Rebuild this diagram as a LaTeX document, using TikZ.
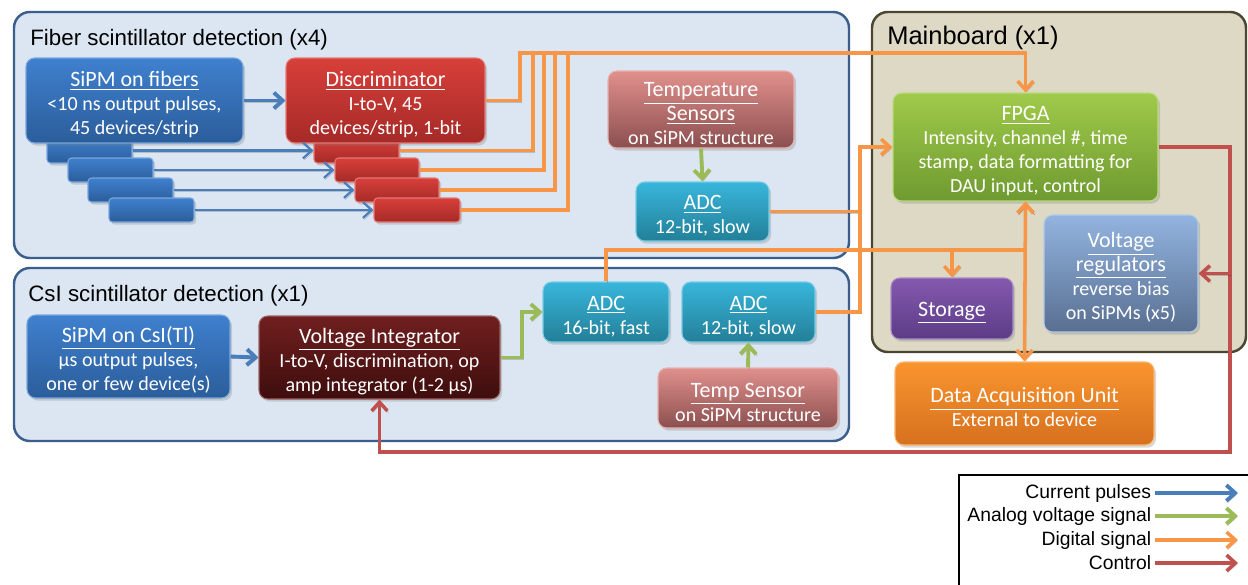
\documentclass[tikz,border=0pt]{standalone}
\usepackage{fontspec}
\setmainfont{Liberation Sans}
\newfontfamily\boxfont{Carlito}
\usetikzlibrary{arrows.meta,shadows,calc}
\definecolor{curblue}{HTML}{4A7EBB}
\definecolor{anagreen}{HTML}{9BBB59}
\definecolor{digor}{HTML}{F79646}
\definecolor{ctlred}{HTML}{C0504D}
\definecolor{contfill}{HTML}{DCE6F2}
\definecolor{contdraw}{HTML}{3B5E8C}
\definecolor{mbfill}{HTML}{DDD9C4}
\definecolor{mbdraw}{HTML}{4B4631}
\definecolor{bluT}{HTML}{3F80CE}
\definecolor{bluB}{HTML}{2B5D9A}
\definecolor{redT}{HTML}{D83F3A}
\definecolor{redB}{HTML}{A52A27}
\definecolor{pinkT}{HTML}{E0908C}
\definecolor{pinkB}{HTML}{8B4F4F}
\definecolor{cyanT}{HTML}{38B6DB}
\definecolor{cyanB}{HTML}{237F98}
\definecolor{grnT}{HTML}{9FCA4A}
\definecolor{grnB}{HTML}{6F9A30}
\definecolor{vrT}{HTML}{93B4E0}
\definecolor{vrB}{HTML}{586F90}
\definecolor{purT}{HTML}{8459AE}
\definecolor{purB}{HTML}{5C3C86}
\definecolor{orT}{HTML}{F9952F}
\definecolor{orB}{HTML}{D6701E}
\definecolor{viT}{HTML}{701F1F}
\definecolor{viB}{HTML}{3E0D0D}
\newcommand{\bxttl}[1]{{\fontsize{12.5}{14}\selectfont\rule{0pt}{13pt}\underline{#1}}}
\newcommand{\bxttlb}[1]{{\fontsize{12.5}{14}\selectfont\underline{#1}}}
\tikzset{
  >={Straight Barb[length=5pt,width=9pt]},
  sz/.style 2 args={minimum width=#1*0.02cm, minimum height=#2*0.02cm},
  bx/.style 2 args={top color=#1, bottom color=#2, draw=#1!70!white, line width=0.6pt,
    rounded corners=5pt, inner sep=0pt, align=center, text=white, anchor=center,
    font=\boxfont\fontsize{11.4}{13.6}\selectfont,
    drop shadow={shadow xshift=1.2pt, shadow yshift=-1.5pt, opacity=0.3}},
  bar/.style 2 args={bx={#1}{#2}, rounded corners=2pt},
  lshadow/.style={preaction={draw=black, opacity=0.18, transform canvas={shift={(0.7pt,-1pt)}}}},
  cur/.style={draw=curblue, line width=2.2pt, lshadow},
  curthin/.style={draw=curblue, line width=1.3pt, lshadow},
  ana/.style={draw=anagreen, line width=2.2pt, lshadow},
  dig/.style={draw=digor, line width=2pt, lshadow},
  ctl/.style={draw=ctlred, line width=2pt, lshadow},
  cont/.style={fill=contfill, draw=contdraw, line width=1.4pt, rounded corners=9pt},
  ttl/.style={inner sep=0pt, anchor=base west, font=\fontsize{12.7}{15}\selectfont},
  leg/.style={inner xsep=2pt, inner ysep=0pt, anchor=east, font=\fontsize{11}{13}\selectfont}
}
\begin{document}
\begin{tikzpicture}[x=0.02cm,y=-0.02cm]
\useasboundingbox (0,0) rectangle (1248,585);
\fill[white] (0,0) rectangle (1248,585);
% containers
\draw[cont] (14,12) rectangle (849,258);
\draw[cont] (14,268) rectangle (849,441);
\draw[cont, fill=mbfill, draw=mbdraw] (872,12) rectangle (1246,352);
\node[ttl] (tfib) at (30,45) {Fiber scintillator detection (x4)};
\node[ttl] (tcsi) at (28,301) {CsI scintillator detection (x1)};
\node[ttl, font=\fontsize{14.5}{16}\selectfont] (tmb) at (887,44) {Mainboard (x1)};
% fiber stack bars
\node[bar={bluT}{bluB}, sz={85}{25}] (fb1) at (89.5,150.5) {};
\node[bar={bluT}{bluB}, sz={85}{24}] (fb2) at (110.5,170) {};
\node[bar={bluT}{bluB}, sz={85}{24}] (fb3) at (130.5,190) {};
\node[bar={bluT}{bluB}, sz={85}{24}] (fb4) at (151.5,210) {};
\node[bar={redT}{redB}, sz={85}{25}] (rb1) at (356.5,150.5) {};
\node[bar={redT}{redB}, sz={84}{24}] (rb2) at (377,170) {};
\node[bar={redT}{redB}, sz={84}{24}] (rb3) at (397,190) {};
\node[bar={redT}{redB}, sz={86}{24}] (rb4) at (417,210) {};
% main boxes
\node[bx={bluT}{bluB}, sz={217}{85}] (sipmf) at (134.5,100.5) {\bxttl{SiPM on fibers}\\<10 ns output pulses,\\45 devices/strip};
\node[bx={redT}{redB}, sz={199}{85}] (disc) at (385.5,100.5) {\bxttl{Discriminator}\\I-to-V, 45\\devices/strip, 1-bit};
\node[bx={pinkT}{pinkB}, sz={186}{77}] (temps) at (701,109.5) {\bxttl{Temperature}\\\bxttlb{Sensors}\\on SiPM structure};
\node[bx={cyanT}{cyanB}, sz={133}{59}] (adcf) at (702.5,211.5) {\bxttl{ADC}\\12-bit, slow};
\node[bx={grnT}{grnB}, sz={265}{108}] (fpga) at (1025.5,147) {\bxttl{FPGA}\\Intensity, channel \#, time\\stamp, data formatting for\\DAU input, control};
\node[bx={vrT}{vrB}, sz={154}{117}] (vreg) at (1121,273.5) {\bxttl{Voltage}\\\bxttlb{regulators}\\reverse bias\\on SiPMs (x5)};
\node[bx={purT}{purB}, sz={122}{61}] (stor) at (952,308.5) {\bxttl{Storage}};
\node[bx={orT}{orB}, sz={259}{83}] (dau) at (1024.5,403.5) {\bxttl{Data Acquisition Unit}\\External to device};
\node[bx={bluT}{bluB}, sz={203}{83}] (sipmc) at (128.5,356.5) {\bxttl{SiPM on CsI(Tl)}\\µs output pulses,\\one or few device(s)};
\node[bx={viT}{viB}, sz={241}{83}] (vi) at (379.5,357.5) {\bxttl{Voltage Integrator}\\I-to-V, discrimination, op\\amp integrator (1-2 µs)};
\node[bx={cyanT}{cyanB}, sz={126}{60}] (adc16) at (606,312) {\bxttl{ADC}\\16-bit, fast};
\node[bx={cyanT}{cyanB}, sz={133}{60}] (adc12) at (748.5,312) {\bxttl{ADC}\\12-bit, slow};
\node[bx={pinkT}{pinkB}, sz={180}{60}] (ts) at (748,398) {\bxttl{Temp Sensor}\\on SiPM structure};
% current pulses
\draw[cur,->] (sipmf.east) -- (disc.west);
\draw[curthin,->] (fb1.east) -- (rb1.west);
\draw[curthin,->] (fb2.east) -- (rb2.west);
\draw[curthin,->] (fb3.east) -- (rb3.west);
\draw[curthin,->] (fb4.east) -- (rb4.west);
\draw[cur,->] (sipmc.east) -- (vi.west);
% digital from discriminators
\coordinate (jT) at (520,53);
\draw[dig] (rb1.east) -| (533,53);
\draw[dig] (rb2.east) -| (544,53);
\draw[dig] (rb3.east) -| (555,53);
\draw[dig] (rb4.east) -| (568,53);
\draw[dig,->] (disc.east) -| (jT) -| (fpga.north);
% analog
\draw[ana,->] (temps.south) -- (adcf.north);
\draw[ana,->] (ts.north) -- (adc12.south);
\coordinate (jD) at (522,335);
\draw[ana,->] (vi.east) -| (jD) |- (adc16.west);
% digital ADCs
\coordinate (jA) at (860,147);
\draw[dig,->] (adcf.east) -| (jA) -- (fpga.west);
\draw[dig] (adc12.east) -| (jA);
\coordinate (jB) at (1025.5,250);
\draw[dig,->] (adc16.north) |- (jB) -- (fpga.south);
\draw[dig,->] (stor.north |- jB) -- (stor.north);
\draw[dig,<->] (fpga.south) -- (dau.north);
% control
\coordinate (jC) at (1230,452);
\draw[ctl,->] (fpga.east) -| (jC) -| (vi.south);
\draw[ctl,->] (vreg.east -| jC) -- (vreg.east);
% legend
\draw[line width=1.3pt] (959,475) rectangle (1262,600);
\node[leg] (l1) at (1155,493) {Current pulses};
\node[leg] (l2) at (1155,516) {Analog voltage signal};
\node[leg] (l3) at (1155,540) {Digital signal};
\node[leg] (l4) at (1155,563) {Control};
\coordinate (e1) at (1238,493);
\coordinate (e2) at (1238,516);
\coordinate (e3) at (1238,540);
\coordinate (e4) at (1238,563);
\draw[cur,->] (l1.east) -- (e1);
\draw[ana,->] (l2.east) -- (e2);
\draw[dig,->] (l3.east) -- (e3);
\draw[ctl,->] (l4.east) -- (e4);
\end{tikzpicture}
\end{document}
